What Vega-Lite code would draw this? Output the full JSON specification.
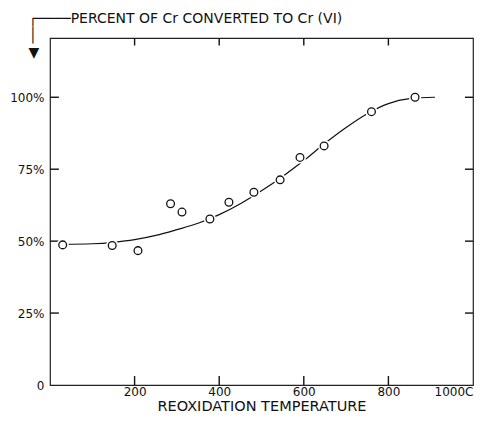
{
  "$schema": "https://vega.github.io/schema/vega-lite/v6.json",
  "width": 423,
  "height": 347,
  "autosize": {"type": "none"},
  "padding": {"left": 50, "top": 38, "right": 21, "bottom": 39},
  "background": "white",
  "config": {
    "view": {"stroke": "#222", "strokeWidth": 1.2},
    "font": "DejaVu Sans",
    "axis": {
      "grid": false,
      "domain": false,
      "ticks": false,
      "labelColor": "#111",
      "labelFontSize": 12,
      "titleColor": "#111",
      "titleFontWeight": "normal",
      "titleFont": "DejaVu Sans"
    }
  },
  "datasets": {
    "points": [
      {"temp": 30, "pct": 48.7},
      {"temp": 147, "pct": 48.5},
      {"temp": 208, "pct": 46.7},
      {"temp": 285, "pct": 63.0},
      {"temp": 312, "pct": 60.1},
      {"temp": 378, "pct": 57.7},
      {"temp": 423, "pct": 63.5},
      {"temp": 482, "pct": 67.0},
      {"temp": 544, "pct": 71.3},
      {"temp": 591, "pct": 79.1},
      {"temp": 648, "pct": 83.1},
      {"temp": 760, "pct": 95.0},
      {"temp": 863, "pct": 100.0}
    ],
    "curve": [
      {"temp": 30, "pct": 48.9},
      {"temp": 100, "pct": 49.1},
      {"temp": 150, "pct": 49.6},
      {"temp": 200, "pct": 50.5},
      {"temp": 250, "pct": 52.0},
      {"temp": 300, "pct": 54.0},
      {"temp": 350, "pct": 56.2},
      {"temp": 400, "pct": 59.2},
      {"temp": 450, "pct": 63.0},
      {"temp": 500, "pct": 67.5},
      {"temp": 550, "pct": 72.5},
      {"temp": 600, "pct": 78.0},
      {"temp": 650, "pct": 84.0},
      {"temp": 700, "pct": 89.5},
      {"temp": 750, "pct": 94.3},
      {"temp": 800, "pct": 97.8},
      {"temp": 850, "pct": 99.5},
      {"temp": 910, "pct": 100.0}
    ],
    "xticks": [{"v": 200}, {"v": 400}, {"v": 600}, {"v": 800}],
    "yticks": [{"v": 25}, {"v": 50}, {"v": 75}, {"v": 100}]
  },
  "layer": [
    {
      "data": {"name": "curve"},
      "mark": {"type": "line", "interpolate": "monotone", "color": "#111", "strokeWidth": 1.2},
      "encoding": {
        "x": {
          "field": "temp", "type": "quantitative",
          "scale": {"domain": [0, 1000], "nice": false, "zero": false, "padding": 0},
          "axis": {
            "orient": "bottom",
            "values": [200, 400, 600, 800, 1000],
            "labelExpr": "datum.value == 1000 ? '1000C' : datum.label",
            "labelPadding": 1,
            "title": "REOXIDATION TEMPERATURE",
            "titleFontSize": 14.5,
            "titlePadding": 2
          }
        },
        "y": {
          "field": "pct", "type": "quantitative",
          "scale": {"domain": [0, 120.6], "nice": false, "zero": false, "padding": 0},
          "axis": {
            "orient": "left",
            "values": [0, 25, 50, 75, 100],
            "labelExpr": "datum.value == 0 ? '0' : datum.value + '%'",
            "labelPadding": 6,
            "title": ["┌────PERCENT OF Cr CONVERTED TO Cr (VI)", "│", "▼"],
            "titleAngle": 0,
            "titleAlign": "left",
            "titleBaseline": "top",
            "titleFontSize": 14,
            "titleLineHeight": 17,
            "titleX": -22,
            "titleY": -27
          }
        }
      }
    },
    {
      "data": {"name": "xticks"},
      "mark": {"type": "bar", "color": "#111", "size": 1.4, "opacity": 1},
      "encoding": {
        "x": {"field": "v", "type": "quantitative", "axis": null},
        "y": {"datum": 0, "type": "quantitative", "axis": null},
        "y2": {"datum": 3.1}
      }
    },
    {
      "data": {"name": "xticks"},
      "mark": {"type": "bar", "color": "#111", "size": 1.4, "opacity": 1},
      "encoding": {
        "x": {"field": "v", "type": "quantitative", "axis": null},
        "y": {"datum": 120.6, "type": "quantitative", "axis": null},
        "y2": {"datum": 118.0}
      }
    },
    {
      "data": {"name": "yticks"},
      "mark": {"type": "bar", "color": "#111", "size": 1.4, "opacity": 1, "orient": "horizontal"},
      "encoding": {
        "y": {"field": "v", "type": "quantitative", "axis": null},
        "x": {"datum": 0, "type": "quantitative", "axis": null},
        "x2": {"datum": 21}
      }
    },
    {
      "data": {"name": "yticks"},
      "mark": {"type": "bar", "color": "#111", "size": 1.4, "opacity": 1, "orient": "horizontal"},
      "encoding": {
        "y": {"field": "v", "type": "quantitative", "axis": null},
        "x": {"datum": 1000, "type": "quantitative", "axis": null},
        "x2": {"datum": 981}
      }
    },
    {
      "data": {"name": "points"},
      "mark": {"type": "point", "shape": "circle", "filled": true, "color": "white", "size": 150, "opacity": 1},
      "encoding": {
        "x": {"field": "temp", "type": "quantitative", "axis": null},
        "y": {"field": "pct", "type": "quantitative", "axis": null}
      }
    },
    {
      "data": {"name": "points"},
      "mark": {"type": "point", "shape": "circle", "fill": "white", "stroke": "#111", "strokeWidth": 1.3, "size": 60, "opacity": 1},
      "encoding": {
        "x": {"field": "temp", "type": "quantitative", "axis": null},
        "y": {"field": "pct", "type": "quantitative", "axis": null}
      }
    }
  ],
  "resolve": {"axis": {"x": "independent", "y": "independent"}}
}
